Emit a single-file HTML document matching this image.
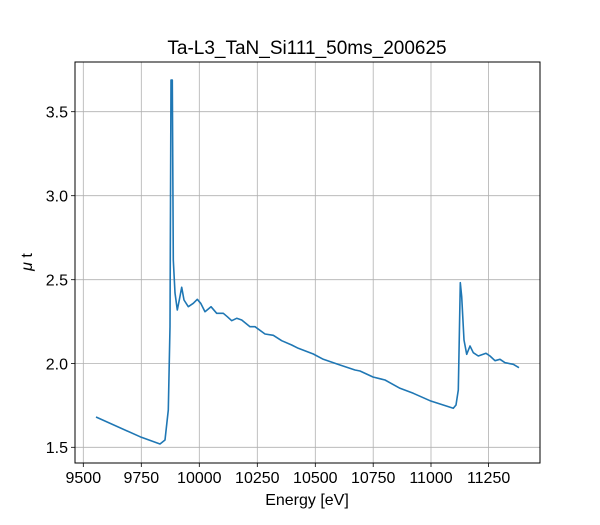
<!DOCTYPE html>
<html><head><meta charset="utf-8"><style>body{margin:0;background:#fff}</style></head><body>
<svg width="600" height="520" xmlns="http://www.w3.org/2000/svg" font-family="Liberation Sans, DejaVu Sans, sans-serif">
<rect width="600" height="520" fill="#fff"/>
<g stroke="#b0b0b0" stroke-width="0.8">
<line x1="83.3" y1="62" x2="83.3" y2="463"/><line x1="141.3" y1="62" x2="141.3" y2="463"/><line x1="199.3" y1="62" x2="199.3" y2="463"/><line x1="257.3" y1="62" x2="257.3" y2="463"/><line x1="315.3" y1="62" x2="315.3" y2="463"/><line x1="373.2" y1="62" x2="373.2" y2="463"/><line x1="431" y1="62" x2="431" y2="463"/><line x1="488.6" y1="62" x2="488.6" y2="463"/>
<line x1="75" y1="111.7" x2="540" y2="111.7"/><line x1="75" y1="195.7" x2="540" y2="195.7"/><line x1="75" y1="279.7" x2="540" y2="279.7"/><line x1="75" y1="363.5" x2="540" y2="363.5"/><line x1="75" y1="447.3" x2="540" y2="447.3"/>
</g>
<polyline fill="none" stroke="#1f77b4" stroke-width="1.6" stroke-linejoin="round" points="96,417 140,436.7 160,444 165,440 168.3,410 170,326.7 171,80 172.3,80 173.3,260 175,293 177.3,310 179.3,300 181.7,287.3 184,300 188.3,306.7 193.3,303.3 197.3,299.3 200.7,303.3 205,311.7 211,306.7 216.7,313.3 223.3,313.3 227.3,316.7 231.7,320.7 236.7,318.3 241.7,320 250,326.7 255,326.7 265,334 273.3,335.3 281.7,340.7 291.7,345 298.3,348.3 313.3,354 323.3,359.3 340,365 355,370 360,371 373,377 385,380 400,388.3 413.3,393.3 430,400.7 453.3,408.3 456,405 458.3,390 459.3,336.7 460.3,282.7 461.7,296.7 464,340 466.7,354.3 470,346 473.3,352.7 478.3,356 486,353.3 490,356 495,360.7 500,359.3 505,362.7 513.3,364.3 519,367.7"/>
<rect x="75" y="62" width="465" height="401" fill="none" stroke="#000" stroke-width="1"/>
<g stroke="#000" stroke-width="0.8">
<line x1="83.3" y1="463" x2="83.3" y2="467"/><line x1="141.3" y1="463" x2="141.3" y2="467"/><line x1="199.3" y1="463" x2="199.3" y2="467"/><line x1="257.3" y1="463" x2="257.3" y2="467"/><line x1="315.3" y1="463" x2="315.3" y2="467"/><line x1="373.2" y1="463" x2="373.2" y2="467"/><line x1="431" y1="463" x2="431" y2="467"/><line x1="488.6" y1="463" x2="488.6" y2="467"/>
<line x1="71" y1="111.7" x2="75" y2="111.7"/><line x1="71" y1="195.7" x2="75" y2="195.7"/><line x1="71" y1="279.7" x2="75" y2="279.7"/><line x1="71" y1="363.5" x2="75" y2="363.5"/><line x1="71" y1="447.3" x2="75" y2="447.3"/>
</g>
<g font-size="16" text-anchor="middle" fill="#000">
<text x="83.3" y="483">9500</text><text x="141.3" y="483">9750</text><text x="199.3" y="483">10000</text><text x="257.3" y="483">10250</text><text x="315.3" y="483">10500</text><text x="373.2" y="483">10750</text><text x="431" y="483">11000</text><text x="488.6" y="483">11250</text>
</g>
<g font-size="16" text-anchor="end" fill="#000">
<text x="68" y="117.5">3.5</text><text x="68" y="201.5">3.0</text><text x="68" y="285.5">2.5</text><text x="68" y="369.5">2.0</text><text x="68" y="453">1.5</text>
</g>
<text x="307" y="505" font-size="16" text-anchor="middle">Energy [eV]</text>
<text x="32" y="262" font-size="16" text-anchor="middle" transform="rotate(-90 32 262)"><tspan font-style="italic">μ</tspan> t</text>
<text x="307" y="54" font-size="19" text-anchor="middle">Ta-L3_TaN_Si111_50ms_200625</text>
</svg>
</body></html>
